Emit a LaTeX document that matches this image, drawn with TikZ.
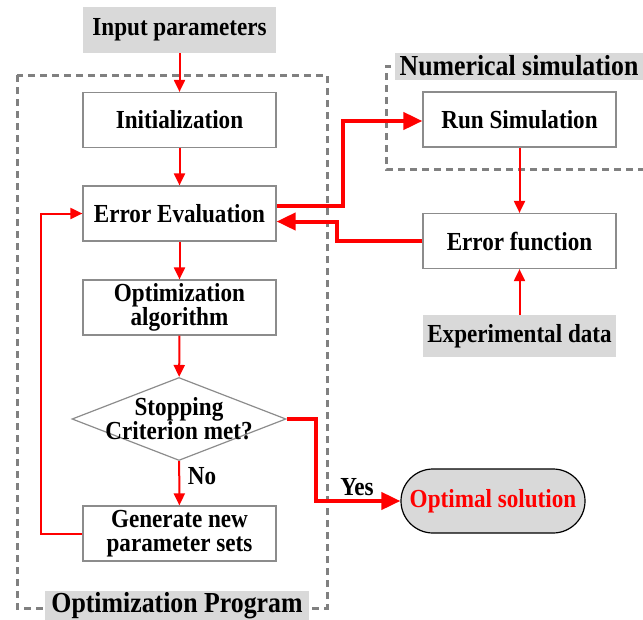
\documentclass[tikz,border=0pt]{standalone}
\usepackage{fontspec}
\setmainfont[FakeStretch=0.89]{Liberation Serif}
\usetikzlibrary{arrows.meta,shapes.geometric,calc}
\definecolor{lbox}{HTML}{D9D9D9}
\definecolor{dgray}{HTML}{808080}
\definecolor{bgray}{HTML}{8C8C8C}
\begin{document}
\begin{tikzpicture}[x=1pt,y=-1pt,
  txt/.style={font=\fontsize{26}{24}\selectfont\bfseries, align=center},
  box/.style={txt, draw=bgray, line width=1.2pt, fill=white, minimum width=193pt, minimum height=55pt, inner sep=0pt},
  lab/.style={txt, fill=lbox, inner sep=0pt},
  grouplab/.style={lab, font=\fontsize{29}{24}\selectfont\bfseries},
  thinarr/.style={draw=red, line width=2pt, -{Triangle[length=12pt,width=11pt]}},
  thickarr/.style={draw=red, line width=4pt, -{Triangle[length=19pt,width=17pt]}},
  dashbox/.style={draw=dgray, line width=3pt, dash pattern=on 7pt off 5pt}
]
\useasboundingbox (0,0) rectangle (643,619);

% dashed groups
\draw[dashbox] (17,75) rectangle (327,608);
\draw[dashbox] (643,66) -- (386,66) -- (386,169) -- (643,169);

% labels
\node[lab, minimum width=193pt, minimum height=46pt] (inp) at (179.5,30) {Input parameters};
\node[grouplab, minimum width=248pt, minimum height=27pt] (numsim) at (519,66) {Numerical simulation};
\node[grouplab, minimum width=264pt, minimum height=30pt] (optprog) at (177,606) {Optimization Program};
\node[lab, minimum width=193pt, minimum height=42pt] (exp) at (519.5,336) {Experimental data};

% boxes
\node[box] (init) at (179.5,120) {Initialization};
\node[box] (ee) at (179.5,213.5) {Error Evaluation};
\node[box] (oa) at (179.5,307.5) {Optimization\\algorithm};
\node[box] (gen) at (179.5,533.5) {Generate new\\parameter sets};
\node[box] (rs) at (519.5,119.5) {Run Simulation};
\node[box] (ef) at (519.5,241) {Error function};

\node[diamond, draw=bgray, line width=1.2pt, minimum width=214pt, minimum height=83pt, inner sep=0pt, aspect=2.58] (dia) at (179,419) {};
\node[txt] (diatext) at (179,419) {Stopping\\Criterion met?};

\node[txt, text=red, draw=black, line width=1.2pt, fill=lbox, rounded corners=32pt, minimum width=184pt, minimum height=64pt, inner sep=0pt] (opt) at (493,501) {Optimal solution};

% connectors
\draw[thinarr] (inp) -- (init);
\draw[thinarr] (init) -- (ee);
\draw[thinarr] (ee) -- (oa);
\draw[thinarr] (oa) -- (dia);
\draw[thinarr] (dia) -- (gen);
\node[txt] (no) at (202,476) {No};
\draw[thinarr] (gen.west) -- ++(-41,0) |- (ee.west);
\draw[thinarr] (rs) -- (ef);
\draw[thinarr] (exp) -- (ef);

\draw[thickarr] ([yshift=8pt]ee.east) -- ++(66,0) |- ([yshift=-1.5pt]rs.west);
\draw[thickarr] (ef.west) -- ++(-85,0) |- ([yshift=-8pt]ee.east);
\draw[thickarr] (dia.east) -- ++(29,0) |- (opt.west);
\node[txt] (yes) at (357,487) {Yes};
\end{tikzpicture}
\end{document}
